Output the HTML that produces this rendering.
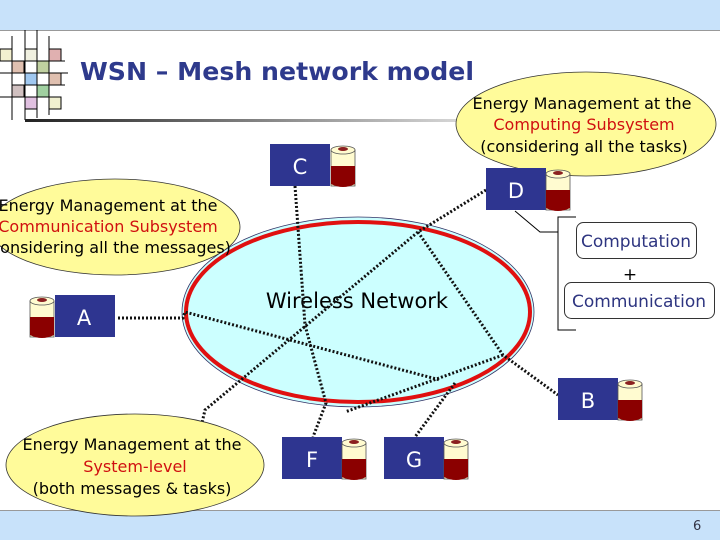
<!DOCTYPE html>
<html><head><meta charset="utf-8"><style>
body{margin:0;width:720px;height:540px;overflow:hidden;background:#fff;font-family:"Liberation Sans","DejaVu Sans",sans-serif}
</style></head><body>
<svg width="720" height="540" viewBox="0 0 720 540" xmlns="http://www.w3.org/2000/svg" font-family="'DejaVu Sans', 'Liberation Sans', sans-serif">
<defs>
<linearGradient id="ul" x1="0" x2="1"><stop offset="0" stop-color="#222"/><stop offset="1" stop-color="#ddd"/></linearGradient>
<g id="cyl">
<rect x="0" y="6" width="24" height="36" fill="#fffbd0" stroke="#555" stroke-width="0.8"/>
<path d="M0 22 L24 22 L24 40 Q12 46 0 40 Z" fill="#8b0000"/>
<ellipse cx="12" cy="6" rx="12" ry="4" fill="#fffbd0" stroke="#555" stroke-width="0.8"/>
<ellipse cx="12" cy="5" rx="5" ry="2" fill="#8b2020"/>
</g>
</defs>
<rect x="0" y="0" width="720" height="30" fill="#c8e2fa"/>
<line x1="0" y1="30.5" x2="720" y2="30.5" stroke="#999"/>
<rect x="0" y="510" width="720" height="30" fill="#c8e2fa"/>
<line x1="0" y1="510.5" x2="720" y2="510.5" stroke="#999"/>
<text x="693" y="530" font-size="13" fill="#334">6</text>
<!-- grid deco -->
<g stroke="#000" stroke-width="1">
<rect x="0" y="49" width="12" height="12" fill="#f3f0d0"/>
<rect x="25" y="49" width="12" height="12" fill="#f0f0e0"/>
<rect x="49" y="49" width="12" height="12" fill="#e0b0b0"/>
<rect x="12" y="61" width="12" height="12" fill="#e0c0b0"/>
<rect x="37" y="61" width="12" height="12" fill="#c0d0a0"/>
<rect x="25" y="73" width="12" height="12" fill="#a0c8f0"/>
<rect x="49" y="73" width="12" height="12" fill="#e0c0b0"/>
<rect x="12" y="85" width="12" height="12" fill="#d0c0c0"/>
<rect x="37" y="85" width="12" height="12" fill="#a0d0a0"/>
<rect x="25" y="97" width="12" height="12" fill="#e0c0e0"/>
<rect x="49" y="97" width="12" height="12" fill="#f0f0d0"/>
<line x1="12" y1="36" x2="12" y2="120"/><line x1="25" y1="30" x2="25" y2="120"/><line x1="37" y1="30" x2="37" y2="118"/><line x1="49" y1="36" x2="49" y2="115"/>
<line x1="0" y1="61" x2="65" y2="61"/><line x1="0" y1="73" x2="68" y2="73"/><line x1="12" y1="85" x2="65" y2="85"/><line x1="0" y1="97" x2="61" y2="97"/>
</g>
<rect x="25" y="119" width="450" height="3" fill="url(#ul)"/>
<text x="80" y="80" font-family="'DejaVu Sans',sans-serif" font-weight="bold" font-size="25" fill="#2e3a8c" textLength="394" lengthAdjust="spacingAndGlyphs">WSN – Mesh network model</text>
<!-- network -->
<ellipse cx="358" cy="312" rx="176" ry="95" fill="#ccffff" stroke="#336" stroke-width="0.8"/>
<ellipse cx="358" cy="312" rx="172" ry="90" fill="none" stroke="#e01010" stroke-width="4"/>
<text x="357" y="308" font-size="21" text-anchor="middle" fill="#000">Wireless Network</text>
<g stroke="#111" stroke-width="3" stroke-dasharray="2 2" fill="none">
<polyline points="295,186 305,325 326,403 313,437"/>
<polyline points="486,190 418,232 205,410 198,440"/>
<polyline points="418,232 503,355 558,395"/>
<polyline points="118,318 183,318 185,312 440,380"/>
<polyline points="503,355 345,412"/>
<polyline points="455,383 415,437"/>
</g>
<!-- callouts -->
<ellipse cx="115" cy="227" rx="125" ry="48" fill="#fffb9a" stroke="#333" stroke-width="0.8"/>
<g font-size="16" text-anchor="middle"><text x="108" y="211">Energy Management at the</text><text x="108" y="232" fill="#d01010">Communication Subsystem</text><text x="108" y="253">(considering all the messages)</text></g>
<ellipse cx="586" cy="124" rx="130" ry="52" fill="#fffb9a" stroke="#333" stroke-width="0.8"/>
<g font-size="16" text-anchor="middle"><text x="582" y="109">Energy Management at the</text><text x="584" y="130" fill="#d01010">Computing Subsystem</text><text x="584" y="152">(considering all the tasks)</text></g>
<!-- nodes -->
<rect x="270" y="144" width="60" height="42" fill="#2e3590"/><text x="300" y="174" font-size="21" fill="#fff" text-anchor="middle">C</text><use href="#cyl" x="331" y="144"/>
<rect x="486" y="168" width="60" height="42" fill="#2e3590"/><text x="516" y="198" font-size="21" fill="#fff" text-anchor="middle">D</text><use href="#cyl" x="546" y="168"/>
<use href="#cyl" x="30" y="295"/><rect x="55" y="295" width="60" height="42" fill="#2e3590"/><text x="84" y="325" font-size="21" fill="#fff" text-anchor="middle">A</text>
<rect x="558" y="378" width="60" height="42" fill="#2e3590"/><text x="588" y="408" font-size="21" fill="#fff" text-anchor="middle">B</text><use href="#cyl" x="618" y="378"/>
<rect x="282" y="437" width="60" height="42" fill="#2e3590"/><text x="312" y="467" font-size="21" fill="#fff" text-anchor="middle">F</text><use href="#cyl" x="342" y="437"/>
<rect x="384" y="437" width="60" height="42" fill="#2e3590"/><text x="414" y="467" font-size="21" fill="#fff" text-anchor="middle">G</text><use href="#cyl" x="444" y="437"/>
<ellipse cx="135" cy="465" rx="129" ry="51" fill="#fffb9a" stroke="#333" stroke-width="0.8"/>
<g font-size="16" text-anchor="middle"><text x="132" y="450">Energy Management at the</text><text x="135" y="472" fill="#d01010">System-level</text><text x="132" y="494">(both messages &amp; tasks)</text></g>
<!-- bracket -->
<g stroke="#000" stroke-width="1" fill="none">
<polyline points="515,211 540,232 558,232"/>
<polyline points="576,217 558,217 558,330 576,330"/>
</g>
<rect x="576.5" y="222.5" width="120" height="36" rx="7" fill="#fff" stroke="#333"/>
<text x="636" y="247" font-size="17" fill="#2e3580" text-anchor="middle">Computation</text>
<text x="630" y="280" font-size="17" text-anchor="middle">+</text>
<rect x="564.5" y="282.5" width="150" height="36" rx="7" fill="#fff" stroke="#333"/>
<text x="639" y="307" font-size="17" fill="#2e3580" text-anchor="middle">Communication</text>
</svg>
</body></html>
